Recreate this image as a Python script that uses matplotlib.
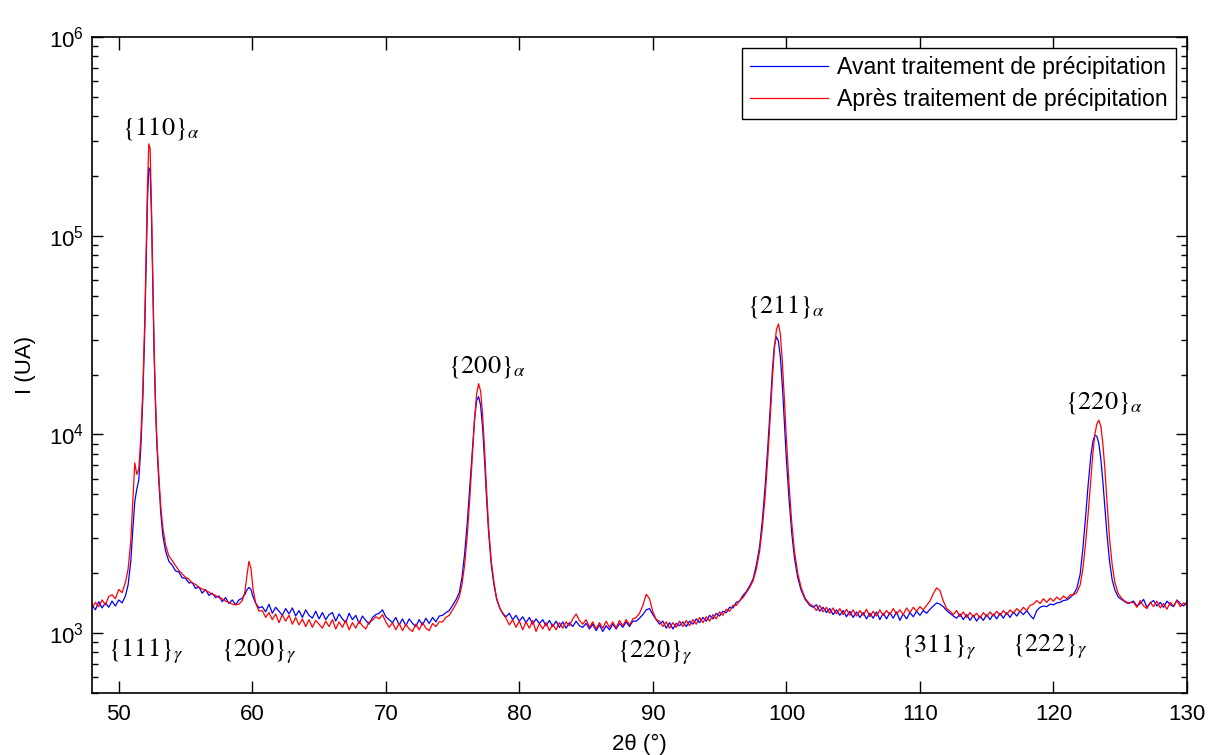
import matplotlib
matplotlib.use("Agg")
import matplotlib.pyplot as plt
from matplotlib.ticker import LogLocator, NullFormatter, FixedLocator
import numpy as np

plt.rcParams['font.family'] = ['Liberation Sans', 'DejaVu Sans']
plt.rcParams['mathtext.fontset'] = 'stix'

# ------------------------------------------
# DATA (2theta in degrees, intensity in UA)
# ------------------------------------------
# 48 - 50.5 : background before {110}a
tt_a = [48.0, 48.25, 48.5, 48.75, 49.0, 49.25, 49.5, 49.75, 50.0, 50.25, 50.5]
av_a = [1390, 1310, 1440, 1340, 1420, 1350, 1450, 1370, 1470, 1420, 1540]
ap_a = [1340, 1430, 1360, 1470, 1390, 1530, 1560, 1490, 1660, 1600, 1800]

# {111}g shoulder + {110}a peak
tt_b = [50.7, 50.9, 51.05, 51.2, 51.35, 51.5, 51.65, 51.8, 51.95, 52.05, 52.15, 52.25,
        52.35, 52.45, 52.55, 52.65, 52.75, 52.85, 53.0, 53.15, 53.3, 53.5, 53.75]
av_b = [1750, 2300, 3300, 4600, 5300, 5900, 8500, 15000, 34000, 72000, 150000, 220000,
        212000, 128000, 55000, 25000, 14000, 9000, 5800, 4000, 3100, 2600, 2300]
ap_b = [2100, 2900, 4600, 7200, 6300, 6700, 9600, 16500, 38000, 82000, 175000, 290000,
        275000, 140000, 60000, 27000, 15000, 9600, 6200, 4300, 3400, 2800, 2450]

# tail of {110}a
tt_c = [54.0, 54.25, 54.5, 54.75, 55.0, 55.25, 55.5, 55.75, 56.0, 56.25, 56.5, 56.75,
        57.0, 57.25, 57.5, 57.75, 58.0, 58.25, 58.5, 58.75, 59.0]
av_c = [2200, 2060, 2030, 1900, 1890, 1790, 1800, 1680, 1710, 1590, 1660, 1550,
        1590, 1510, 1540, 1440, 1510, 1410, 1470, 1390, 1470]
ap_c = [2320, 2190, 2070, 1990, 1910, 1870, 1790, 1760, 1700, 1670, 1640, 1610,
        1570, 1550, 1510, 1490, 1450, 1430, 1400, 1390, 1400]

# {200}g
tt_d = [59.25, 59.45, 59.6, 59.75, 59.9, 60.05, 60.25, 60.5]
av_d = [1500, 1570, 1650, 1700, 1660, 1530, 1420, 1340]
ap_d = [1460, 1620, 1950, 2300, 2120, 1680, 1420, 1290]

# background 60.75 - 75.5
tt_e = [60.75, 61.0, 61.25, 61.5, 61.75, 62.0, 62.25, 62.5, 62.75, 63.0, 63.25, 63.5,
        63.75, 64.0, 64.25, 64.5, 64.75, 65.0, 65.25, 65.5, 65.75, 66.0, 66.25, 66.5,
        66.75, 67.0, 67.25, 67.5, 67.75, 68.0, 68.25, 68.5, 68.75, 69.0, 69.25, 69.5,
        69.75, 70.0, 70.25, 70.5, 70.75, 71.0, 71.25, 71.5, 71.75, 72.0, 72.25, 72.5,
        72.75, 73.0, 73.25, 73.5, 73.75, 74.0, 74.25, 74.5, 74.75, 75.0, 75.25, 75.5]
av_e = [1360, 1280, 1400, 1260, 1350, 1290, 1230, 1330, 1250, 1340, 1220, 1300,
        1200, 1310, 1230, 1190, 1290, 1180, 1270, 1170, 1240, 1270, 1150, 1250,
        1180, 1130, 1260, 1170, 1230, 1120, 1220, 1160, 1110, 1200, 1240, 1260,
        1310, 1210, 1170, 1130, 1200, 1100, 1180, 1090, 1180, 1120, 1080, 1170,
        1100, 1190, 1120, 1200, 1140, 1220, 1230, 1270, 1300, 1380, 1470, 1600]
ap_e = [1300, 1200, 1270, 1170, 1250, 1130, 1240, 1150, 1230, 1110, 1200, 1100,
        1180, 1080, 1170, 1070, 1160, 1110, 1060, 1150, 1080, 1170, 1050, 1140,
        1070, 1160, 1040, 1130, 1060, 1150, 1090, 1050, 1140, 1160, 1210, 1180,
        1240, 1140, 1070, 1130, 1040, 1120, 1030, 1110, 1050, 1020, 1110, 1040,
        1130, 1060, 1030, 1120, 1080, 1140, 1140, 1200, 1230, 1310, 1400, 1520]

# {200}a
tt_f = [75.7, 75.9, 76.1, 76.3, 76.5, 76.65, 76.8, 76.95, 77.1, 77.25, 77.4, 77.55,
        77.7, 77.9, 78.1, 78.3, 78.55, 78.8]
av_f = [1900, 2500, 3600, 5600, 8800, 12000, 14800, 15500, 14000, 10800, 7300, 4700,
        3200, 2200, 1750, 1480, 1330, 1250]
ap_f = [1750, 2200, 3100, 4900, 8200, 12000, 16000, 18000, 16500, 12500, 8300, 5200,
        3400, 2300, 1800, 1500, 1330, 1240]

# background 79 - 97.25 with {220}g
tt_g = [79.0, 79.25, 79.5, 79.75, 80.0, 80.25, 80.5, 80.75, 81.0, 81.25, 81.5, 81.75,
        82.0, 82.25, 82.5, 82.75, 83.0, 83.25, 83.5, 83.75, 84.0, 84.25, 84.5, 84.75,
        85.0, 85.25, 85.5, 85.75, 86.0, 86.25, 86.5, 86.75, 87.0, 87.25, 87.5, 87.75,
        88.0, 88.25, 88.5, 88.75, 89.0, 89.25, 89.5, 89.75, 90.0, 90.25, 90.5, 90.75,
        91.0, 91.25, 91.5, 91.75, 92.0, 92.25, 92.5, 92.75, 93.0, 93.25, 93.5, 93.75,
        94.0, 94.25, 94.5, 94.75, 95.0, 95.25, 95.5, 95.75, 96.0, 96.25, 96.5, 96.75,
        97.0, 97.25]
av_g = [1210, 1260, 1170, 1230, 1150, 1210, 1130, 1200, 1110, 1180, 1120, 1170,
        1090, 1160, 1080, 1150, 1070, 1140, 1060, 1130, 1080, 1150, 1090, 1070,
        1120, 1050, 1110, 1030, 1100, 1020, 1090, 1040, 1110, 1050, 1120, 1070,
        1140, 1080, 1150, 1150, 1190, 1240, 1310, 1330, 1240, 1170, 1110, 1150,
        1060, 1130, 1050, 1120, 1090, 1140, 1080, 1150, 1110, 1180, 1130, 1200,
        1150, 1230, 1180, 1260, 1220, 1290, 1270, 1350, 1340, 1430, 1450, 1550,
        1620, 1730]
ap_g = [1190, 1100, 1170, 1070, 1150, 1040, 1140, 1060, 1160, 1020, 1120, 1050,
        1130, 1030, 1110, 1040, 1130, 1060, 1140, 1090, 1180, 1250, 1160, 1110,
        1170, 1070, 1140, 1050, 1130, 1060, 1150, 1070, 1140, 1060, 1160, 1090,
        1170, 1100, 1180, 1200, 1260, 1380, 1570, 1490, 1280, 1170, 1150, 1080,
        1140, 1060, 1130, 1070, 1150, 1080, 1160, 1090, 1170, 1110, 1200, 1130,
        1210, 1150, 1240, 1180, 1280, 1230, 1320, 1290, 1380, 1380, 1460, 1510,
        1600, 1700]

# {211}a
tt_h = [97.5, 97.75, 98.0, 98.2, 98.4, 98.6, 98.8, 98.95, 99.1, 99.25, 99.4, 99.55,
        99.7, 99.85, 100.0, 100.2, 100.4, 100.6, 100.85, 101.1, 101.4, 101.75]
av_h = [1870, 2200, 2750, 3700, 5400, 8500, 14000, 21000, 28000, 31000, 29500, 24500,
        17500, 11500, 7500, 4700, 3200, 2400, 1900, 1650, 1480, 1380]
ap_h = [1830, 2100, 2600, 3400, 4800, 7500, 12500, 19000, 27000, 33500, 36000, 32000,
        23000, 15000, 9500, 5600, 3600, 2600, 2000, 1700, 1500, 1400]

# background 102 - 121.5 with {311}g and {222}g
tt_i = [102.0, 102.25, 102.5, 102.75, 103.0, 103.25, 103.5, 103.75, 104.0, 104.25,
        104.5, 104.75, 105.0, 105.25, 105.5, 105.75, 106.0, 106.25, 106.5, 106.75,
        107.0, 107.25, 107.5, 107.75, 108.0, 108.25, 108.5, 108.75, 109.0, 109.25,
        109.5, 109.75, 110.0, 110.25, 110.5, 110.75, 111.0, 111.25, 111.5, 111.75,
        112.0, 112.25, 112.5, 112.75, 113.0, 113.25, 113.5, 113.75, 114.0, 114.25,
        114.5, 114.75, 115.0, 115.25, 115.5, 115.75, 116.0, 116.25, 116.5, 116.75,
        117.0, 117.25, 117.5, 117.75, 118.0, 118.25, 118.5, 118.75, 119.0, 119.25,
        119.5, 119.75, 120.0, 120.25, 120.5, 120.75, 121.0, 121.25, 121.5]
av_i = [1350, 1390, 1290, 1350, 1270, 1330, 1240, 1310, 1230, 1300,
        1210, 1290, 1200, 1280, 1200, 1270, 1180, 1260, 1190, 1280,
        1170, 1260, 1180, 1270, 1190, 1280, 1160, 1250, 1180, 1270,
        1210, 1290, 1230, 1300, 1260, 1320, 1370, 1420, 1400, 1360,
        1300, 1260, 1220, 1190, 1250, 1170, 1240, 1160, 1230, 1150,
        1220, 1160, 1240, 1170, 1250, 1180, 1260, 1190, 1270, 1200,
        1280, 1220, 1290, 1240, 1300, 1230, 1180, 1300, 1350, 1370,
        1360, 1400, 1390, 1420, 1430, 1460, 1470, 1510, 1570]
ap_i = [1370, 1300, 1380, 1280, 1350, 1260, 1340, 1250, 1330, 1240,
        1320, 1230, 1310, 1220, 1300, 1230, 1320, 1210, 1290, 1220,
        1310, 1230, 1300, 1240, 1330, 1250, 1310, 1240, 1340, 1270,
        1350, 1290, 1360, 1310, 1380, 1450, 1580, 1690, 1640, 1450,
        1330, 1290, 1240, 1300, 1210, 1280, 1200, 1270, 1210, 1260,
        1190, 1270, 1210, 1280, 1220, 1290, 1230, 1300, 1240, 1310,
        1260, 1330, 1280, 1350, 1300, 1380, 1400, 1460, 1410, 1490,
        1430, 1500, 1450, 1520, 1470, 1540, 1490, 1560, 1560]

# {220}a
tt_j = [121.75, 122.0, 122.2, 122.4, 122.6, 122.8, 122.95, 123.1, 123.25, 123.4, 123.55,
        123.7, 123.85, 124.0, 124.2, 124.4, 124.6, 124.85, 125.1, 125.35, 125.6]
av_j = [1680, 1980, 2650, 3800, 5600, 7800, 9200, 9900, 9800, 9000, 7500,
        5800, 4300, 3200, 2300, 1850, 1650, 1520, 1480, 1440, 1410]
ap_j = [1600, 1750, 2100, 2800, 4000, 6000, 8000, 10000, 11300, 11800, 11000,
        9000, 6700, 4700, 3000, 2200, 1800, 1580, 1500, 1450, 1420]

# background 126 - 130
tt_k = [126.0, 126.25, 126.5, 126.75, 127.0, 127.25, 127.5, 127.75, 128.0, 128.25,
        128.5, 128.75, 129.0, 129.25, 129.5, 129.75, 130.0]
av_k = [1450, 1370, 1410, 1480, 1350, 1420, 1460, 1370, 1430, 1350,
        1450, 1390, 1360, 1470, 1410, 1370, 1440]
ap_k = [1430, 1350, 1460, 1370, 1330, 1430, 1360, 1450, 1340, 1410,
        1320, 1430, 1370, 1460, 1360, 1420, 1380]

two_theta = tt_a + tt_b + tt_c + tt_d + tt_e + tt_f + tt_g + tt_h + tt_i + tt_j + tt_k
avant = av_a + av_b + av_c + av_d + av_e + av_f + av_g + av_h + av_i + av_j + av_k
apres = ap_a + ap_b + ap_c + ap_d + ap_e + ap_f + ap_g + ap_h + ap_i + ap_j + ap_k

# peak labels: (text, 2theta, intensity)
labels = [
    (r'$\{110\}_{\alpha}$', 53.13, 3.45e5),
    (r'$\{111\}_{\gamma}$', 52.05, 810),
    (r'$\{200\}_{\gamma}$', 60.49, 810),
    (r'$\{200\}_{\alpha}$', 77.54, 2.19e4),
    (r'$\{211\}_{\alpha}$', 99.96, 4.4e4),
    (r'$\{220\}_{\gamma}$', 90.15, 800),
    (r'$\{311\}_{\gamma}$', 111.38, 850),
    (r'$\{222\}_{\gamma}$', 119.74, 850),
    (r'$\{220\}_{\alpha}$', 123.73, 1.445e4),
]

# ------------------------------------------
# PLOT
# ------------------------------------------
fig = plt.figure(figsize=(12.08, 7.55), dpi=100)
ax = fig.add_axes([0.0762, 0.0821, 0.9064, 0.8689])

ax.plot(two_theta, avant, color='#0000FF', linewidth=0.9, label='Avant traitement de précipitation')
ax.plot(two_theta, apres, color='#FF0000', linewidth=0.9, label='Après traitement de précipitation')

ax.set_yscale('log')
ax.set_xlim(48, 130)
ax.set_ylim(500, 1e6)
ax.xaxis.set_major_locator(FixedLocator([50, 60, 70, 80, 90, 100, 110, 120, 130]))
ax.yaxis.set_major_locator(LogLocator(base=10))
ax.yaxis.set_minor_locator(LogLocator(base=10, subs=np.arange(2, 10)))
ax.yaxis.set_minor_formatter(NullFormatter())

ax.tick_params(axis='both', which='both', direction='in', top=True, right=True,
               labelsize=16, colors='black')
ax.tick_params(axis='x', which='major', length=9, width=1, pad=8)
ax.tick_params(axis='y', which='major', length=8, width=1, pad=6)
ax.tick_params(axis='y', which='minor', length=4, width=1)
for s in ax.spines.values():
    s.set_linewidth(1.2)

ax.set_xlabel('2θ (°)', fontsize=16, labelpad=6)
ax.set_ylabel('I (UA)', fontsize=16, labelpad=9)

for txt, xx, yy in labels:
    ax.text(xx, yy, txt, ha='center', va='center', fontsize=19)

leg = ax.legend(loc='upper right', bbox_to_anchor=(0.99, 0.983), borderaxespad=0,
                fontsize=16.6, handlelength=3.4, handletextpad=0.4, fancybox=False,
                framealpha=1, edgecolor='black', borderpad=0.35, labelspacing=0.38)
leg.get_frame().set_linewidth(1)

fig.savefig('out.png', dpi=100)
